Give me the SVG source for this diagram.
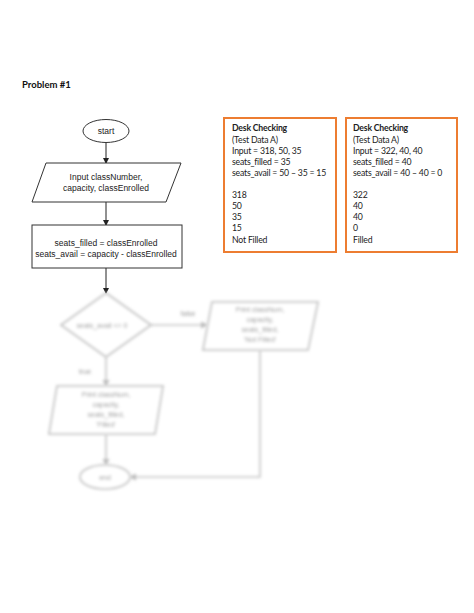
<svg xmlns="http://www.w3.org/2000/svg" width="474" height="613" viewBox="0 0 474 613">
<defs>
<style>
.fc{font-family:"Liberation Sans",Arial,sans-serif;font-size:8.5px;fill:#222;text-anchor:middle}
.sh{fill:#fff;stroke:#333;stroke-width:1}
.ln{fill:none;stroke:#222;stroke-width:1}
.dk{font-family:"Lato","Liberation Sans",sans-serif;font-size:8.7px;letter-spacing:-0.2px;fill:#222}
.bx{fill:#fff;stroke:#ED7D31;stroke-width:2}
.bl .sh{stroke:#bbb;stroke-width:1.6}
.bl .ln{stroke:#c4c4c4;stroke-width:1.6}
.bl .fc{fill:#999;font-size:7px}
</style>
<marker id="ah" markerWidth="6" markerHeight="6" refX="5" refY="3" orient="auto" markerUnits="userSpaceOnUse">
<path d="M0,0 L6,3 L0,6 Z" fill="#222"/>
</marker>
<marker id="ahg" markerWidth="7" markerHeight="7" refX="6" refY="3.5" orient="auto" markerUnits="userSpaceOnUse">
<path d="M0,0 L7,3.5 L0,7 Z" fill="#bbb"/>
</marker>
<filter id="blur" x="-10%" y="-10%" width="120%" height="120%"><feGaussianBlur stdDeviation="1.5"/></filter>
</defs>
<rect width="474" height="613" fill="#fff"/>
<text x="22" y="88" style="font-family:'Lato','Liberation Sans',sans-serif;font-size:9.5px;font-weight:bold;fill:#111">Problem #1</text>

<g id="connectors">
<line class="ln" x1="106" y1="142.5" x2="106" y2="163" marker-end="url(#ah)"/>
<line class="ln" x1="106" y1="202" x2="106" y2="225" marker-end="url(#ah)"/>
<line class="ln" x1="106" y1="268" x2="106" y2="293" marker-end="url(#ah)"/>
<g class="bl" filter="url(#blur)">
<line class="ln" x1="151" y1="325" x2="207" y2="325" marker-end="url(#ahg)"/>
<line class="ln" x1="106" y1="357" x2="106" y2="386" marker-end="url(#ahg)"/>
<line class="ln" x1="106" y1="434" x2="106" y2="465" marker-end="url(#ahg)"/>
<polyline class="ln" points="260,350 260,477 130,477" marker-end="url(#ahg)"/>
<text class="fc" x="188" y="316">false</text>
<text class="fc" x="85" y="374">true</text>
</g>
</g>

<g id="start">
<ellipse class="sh" cx="106" cy="131" rx="23" ry="11.5"/>
<text class="fc" x="106" y="134">start</text>
</g>
<g id="input">
<polygon class="sh" points="46,163 181,163 166,202 32,202"/>
<text class="fc" x="106" y="180">Input classNumber,</text>
<text class="fc" x="106" y="191">capacity, classEnrolled</text>
</g>
<g id="calc">
<rect class="sh" x="32" y="225" width="150" height="43"/>
<text class="fc" x="106" y="246">seats_filled = classEnrolled</text>
<text class="fc" x="106" y="257">seats_avail = capacity - classEnrolled</text>
</g>

<g class="bl" filter="url(#blur)">
<g id="decision">
<polygon class="sh" points="106,293 151,325 106,357 61,325"/>
<text class="fc" x="102" y="328">seats_avail &lt;= 0</text>
</g>
<g id="print-not-filled">
<polygon class="sh" points="212,302 318,302 308,350 203,350"/>
<text class="fc" x="260" y="312">Print classNum,</text>
<text class="fc" x="260" y="322">capacity,</text>
<text class="fc" x="260" y="332">seats_filled,</text>
<text class="fc" x="260" y="342">'Not Filled'</text>
</g>
<g id="print-filled">
<polygon class="sh" points="57,386 163,386 155,434 49,434"/>
<text class="fc" x="106" y="397">Print classNum,</text>
<text class="fc" x="106" y="407">capacity,</text>
<text class="fc" x="106" y="417">seats_filled,</text>
<text class="fc" x="106" y="427">'Filled'</text>
</g>
<g id="end">
<ellipse class="sh" cx="105" cy="477" rx="25" ry="12"/>
<text class="fc" x="105" y="480">end</text>
</g>
</g>

<g id="desk-a">
<rect class="bx" x="224" y="118" width="112" height="134"/>
<text class="dk" x="232" y="131" font-weight="bold">Desk Checking</text>
<text class="dk" x="232" y="143">(Test Data A)</text>
<text class="dk" x="232" y="154">Input = 318, 50, 35</text>
<text class="dk" x="232" y="165">seats_filled = 35</text>
<text class="dk" x="232" y="176">seats_avail = 50 – 35 = 15</text>
<text class="dk" x="232" y="198">318</text>
<text class="dk" x="232" y="209">50</text>
<text class="dk" x="232" y="220">35</text>
<text class="dk" x="232" y="231">15</text>
<text class="dk" x="232" y="243">Not Filled</text>
</g>
<g id="desk-b">
<rect class="bx" x="346" y="118" width="111" height="134"/>
<text class="dk" x="353" y="131" font-weight="bold">Desk Checking</text>
<text class="dk" x="353" y="143">(Test Data A)</text>
<text class="dk" x="353" y="154">Input = 322, 40, 40</text>
<text class="dk" x="353" y="165">seats_filled = 40</text>
<text class="dk" x="353" y="176">seats_avail = 40 – 40 = 0</text>
<text class="dk" x="353" y="198">322</text>
<text class="dk" x="353" y="209">40</text>
<text class="dk" x="353" y="220">40</text>
<text class="dk" x="353" y="231">0</text>
<text class="dk" x="353" y="243">Filled</text>
</g>
</svg>
